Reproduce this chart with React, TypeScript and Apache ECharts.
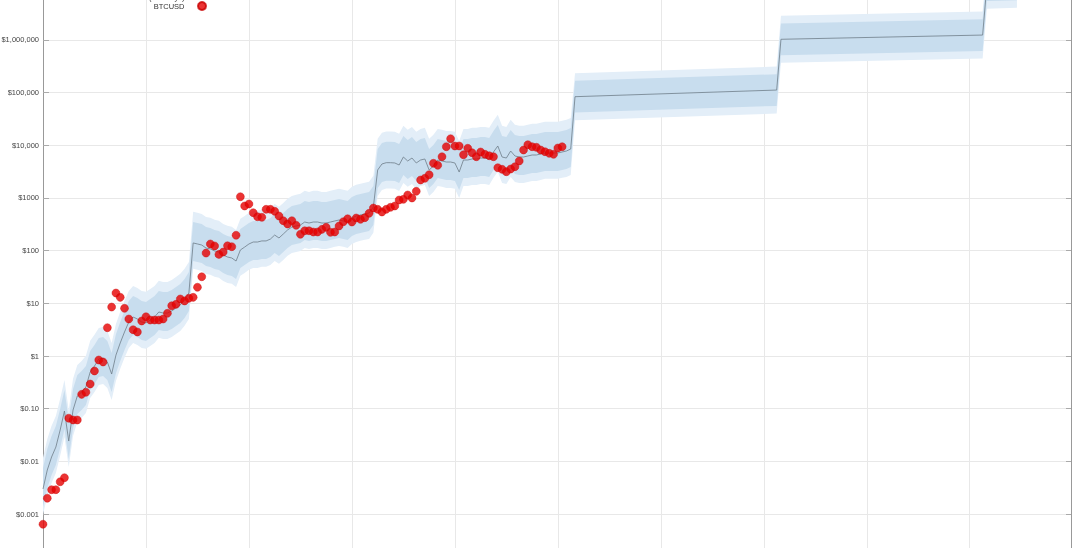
import React, { useEffect, useRef } from "react";
import * as echarts from "echarts";

// Monthly BTC price, starting Jan 2010 (month index 0)
const btcPrice = [
  0.00064, 0.002, 0.0029, 0.0029, 0.0041, 0.0049,
  0.066, 0.061, 0.061, 0.187, 0.205, 0.294,
  0.52, 0.84, 0.77, 3.45, 8.5, 15.7,
  13.0, 8.05, 5.04, 3.16, 2.86, 4.62,
  5.57, 4.82, 4.82, 4.82, 5.04, 6.47,
  9.02, 9.59, 12.1, 11.1, 12.5, 13.0,
  20.2, 32, 90, 134, 123, 85,
  94, 124, 119, 196, 1058, 705,
  769, 526, 441, 430, 610, 610,
  559, 455, 371, 321, 371, 303,
  205, 239, 239, 226, 226, 254,
  278, 223, 226, 294, 355, 404,
  350, 417, 394, 423, 512, 645,
  610, 542, 610, 666, 705, 916,
  944, 1140, 1000, 1340, 2196, 2366,
  2767, 4560, 4176, 6080, 9420, 13360,
  9710, 9710, 6640, 8780, 7240, 6080,
  7470, 6760, 6350, 6080, 3760, 3507,
  3157, 3550, 3930, 5040, 8150, 10280,
  9420, 9170, 8150, 7570, 7050, 6760,
  8890, 9420,
];

// Monthly S2F model value, Jan 2010 .. Apr 2020
const modelHist = [
  0.00299, 0.00685, 0.0121, 0.0187, 0.0394, 0.0903,
  0.0243, 0.0944, 0.174, 0.207, 0.258, 0.497,
  0.646, 0.877, 0.916, 0.769, 0.455, 1.04,
  1.77, 2.86, 4.42, 5.5, 5.04, 4.42,
  4.24, 4.82, 5.5, 6.85, 6.55, 6.55,
  7.15, 8.15, 9.3, 11.6, 15.7, 140,
  134, 128, 112, 108, 98.6, 94.4,
  82.7, 75.8, 72.6, 63.6, 103, 117,
  134, 146, 146, 153, 153, 166,
  198, 174, 207, 247, 281, 294,
  307, 350, 335, 350, 350, 335,
  335, 350, 366, 382, 366, 350,
  417, 455, 476, 497, 519, 675,
  3400, 4420, 4680, 4680, 4620, 4230,
  6000, 5040, 5740, 4620, 5260, 5500,
  3400, 4050, 5260, 5040, 4820, 4820,
  4620, 3110, 5260, 5260, 5500, 5500,
  5740, 5740, 5500, 7470, 9710, 6000,
  5740, 7800, 6270, 6000, 6000, 6270,
  6550, 6550, 6840, 7150, 7150, 7150,
  7150, 7470, 7800, 8510,
];

// Projected model after the May 2020 halving (month index, value)
const modelFutureMonth = [124, 171, 172, 219, 220, 227];
const modelFutureValue = [83800, 112000, 1030000, 1240000, 11000000, 11400000];

// Band spreads (divide-below, multiply-above)
const bandHistInner = [2.2, 2.5];
const bandHistOuter = [3.1, 3.9];
const bandFutureInner = [2.0, 2.0];
const bandFutureOuter = [2.8, 2.8];

const yTickValues = [0.001, 0.01, 0.1, 1, 10, 100, 1000, 10000, 100000, 1000000];
const yTickLabels = ["$0.001", "$0.01", "$0.10", "$1", "$10", "$100", "$1000", "$10,000", "$100,000", "$1,000,000"];

const legendNames = ["Stock-to-Flow model (463 days)", "BTCUSD"];

export default function App() {
  const ref = useRef<HTMLDivElement>(null);
  useEffect(() => {
    const chart = echarts.init(ref.current!, null, { renderer: "svg" });
    const modelPts: number[][] = [
      ...modelHist.map((v, i) => [i, v]),
      ...modelFutureMonth.map((m, k) => [m, modelFutureValue[k]]),
    ];
    const histLen = modelHist.length;
    const band = (inner: boolean) =>
      modelPts.map(([x, v], k) => {
        const f = k < histLen ? (inner ? bandHistInner : bandHistOuter) : inner ? bandFutureInner : bandFutureOuter;
        return [x, v / f[0], v * f[1]];
      });
    const bandSeries = (rows: number[][], color: string, name: string) => ({
      type: "custom",
      name,
      silent: true,
      clip: true,
      z: 1,
      data: rows,
      encode: { x: 0, y: [1, 2] },
      renderItem: (params: any, api: any) => {
        if (params.dataIndex !== 0) return null;
        const top = rows.map((r) => api.coord([r[0], r[2]]));
        const bot = rows.map((r) => api.coord([r[0], r[1]])).reverse();
        return { type: "polygon", shape: { points: top.concat(bot) }, style: { fill: color } };
      },
    });
    const labelFor = (v: number) => {
      const k = yTickValues.findIndex((t) => Math.abs(Math.log10(t) - Math.log10(v)) < 1e-6);
      return k >= 0 ? yTickLabels[k] : "";
    };
    chart.setOption({
      animation: false,
      textStyle: { fontFamily: "Liberation Sans, Arial, sans-serif" },
      legend: {
        data: [
          { name: legendNames[0], icon: "path://M0,4L25,4L25,5L0,5Z" },
          { name: legendNames[1], icon: "circle" },
        ],
        orient: "vertical",
        align: "right",
        right: 865.5,
        top: 33,
        padding: 0,
        itemGap: 0,
        itemWidth: 25,
        itemHeight: 8,
        textStyle: { fontSize: 7.5, color: "#333" },
      },
      grid: {
        left: 43,
        top: 27.3,
        width: 1028,
        height: 579.4,
        containLabel: false,
        outerBoundsMode: "none",
      },
      xAxis: {
        type: "value",
        min: 0,
        max: 239.6,
        interval: 24,
        axisLine: { show: true, lineStyle: { color: "#999" } },
        axisTick: { show: false },
        axisLabel: { show: false },
        splitLine: { show: true, lineStyle: { color: "#e8e8e8", width: 1 } },
      },
      yAxis: [
        {
          type: "log",
          logBase: 10,
          min: 0.0001,
          max: 10000000,
          interval: 1,
          name: "BTCUSD",
          nameLocation: "middle",
          nameRotate: 90,
          nameGap: 33,
          nameTextStyle: { fontSize: 3.5, color: "#999" },
          axisLine: { show: true, lineStyle: { color: "#999" } },
          axisTick: { show: true, inside: true, length: 6, lineStyle: { color: "#aaa" } },
          axisLabel: { show: true, fontSize: 7.5, color: "#444", margin: 4, formatter: labelFor },
          splitLine: { show: true, lineStyle: { color: "#e8e8e8", width: 1 } },
        },
        {
          type: "log",
          logBase: 10,
          min: 0.0001,
          max: 10000000,
          interval: 1,
          position: "right",
          axisLine: { show: true, lineStyle: { color: "#999" } },
          axisTick: { show: true, inside: true, length: 5, lineStyle: { color: "#aaa" } },
          axisLabel: { show: false },
          splitLine: { show: false },
        },
      ],
      series: [
        bandSeries(band(false), "#e3eef8", "band2"),
        bandSeries(band(true), "#c8ddee", "band1"),
        {
          type: "line",
          name: legendNames[0],
          data: modelPts,
          showSymbol: false,
          symbol: "none",
          z: 3,
          lineStyle: { color: "#6f7d89", width: 0.8 },
          itemStyle: { color: "#6f7d89" },
        },
        {
          type: "scatter",
          name: legendNames[1],
          data: btcPrice.map((v, i) => [i, v]),
          symbol: "circle",
          symbolSize: 8,
          z: 4,
          itemStyle: { color: "#e60000", borderColor: "#c80000", borderWidth: 0.5 },
        },
      ],
    });
    return () => chart.dispose();
  }, []);
  return <div ref={ref} style={{ position: "fixed", left: 0, top: -40, width: 1080, height: 620 }} />;
}
